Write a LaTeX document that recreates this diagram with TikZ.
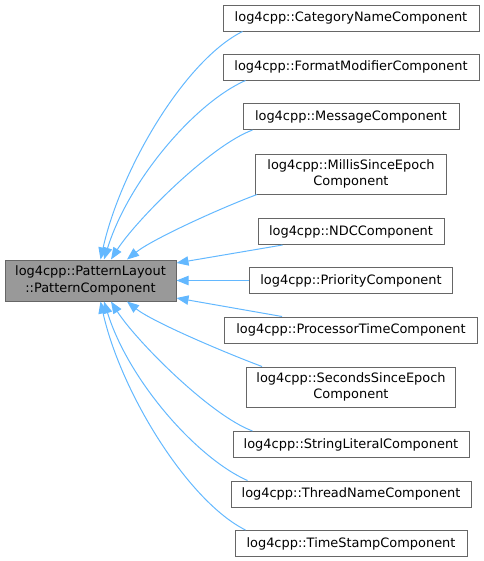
\documentclass[tikz,border=0pt]{standalone}
\usepackage{fontspec}
\setmainfont{DejaVu Sans}
\usetikzlibrary{calc,arrows.meta}

\definecolor{edgeblue}{HTML}{63B8FF}
\definecolor{boxgray}{HTML}{999999}
\definecolor{linegray}{HTML}{666666}

\begin{document}
\begin{tikzpicture}[x=0.75pt, y=-0.75pt,
  clsbox/.style={draw=linegray, line width=0.75pt, fill=white, inner sep=0pt,
    align=center, font=\fontsize{9.7}{12.5}\selectfont, minimum height=19.5pt},
  basebox/.style={clsbox, fill=boxgray, minimum height=30.75pt},
  inherit/.style={draw=edgeblue, line width=0.75pt,
    -{Triangle[length=9pt, width=7pt, fill=edgeblue]}}]

  % Page size
  \useasboundingbox (0,0) rectangle (484,561);

  % Base class
  \node[basebox, minimum width=128.25pt] (base) at (90.5,280.5)
    {log4cpp::PatternLayout\\::PatternComponent};

  % Derived classes
  \node[clsbox, minimum width=192pt] (cat) at (351,18) {log4cpp::CategoryNameComponent};
  \node[clsbox, minimum width=192pt] (fmt) at (351,67) {log4cpp::FormatModifierComponent};
  \node[clsbox, minimum width=162pt] (msg) at (351,116.5) {log4cpp::MessageComponent};
  \node[clsbox, minimum width=143.25pt, minimum height=30pt] (mil) at (351,174)
    {log4cpp::MillisSinceEpoch\\Component};
  \node[clsbox, minimum width=139.5pt] (ndc) at (351,231.5) {log4cpp::NDCComponent};
  \node[clsbox, minimum width=152.25pt] (pri) at (351,280.5) {log4cpp::PriorityComponent};
  \node[clsbox, minimum width=189.75pt] (pro) at (351,330) {log4cpp::ProcessorTimeComponent};
  \node[clsbox, minimum width=156.75pt, minimum height=30pt] (sec) at (351,387)
    {log4cpp::SecondsSinceEpoch\\Component};
  \node[clsbox, minimum width=177pt] (str) at (351,444.5) {log4cpp::StringLiteralComponent};
  \node[clsbox, minimum width=180pt] (thr) at (351,494) {log4cpp::ThreadNameComponent};
  \node[clsbox, minimum width=174pt] (tim) at (351,543.5) {log4cpp::TimeStampComponent};

  % Inheritance arrows, upper half
  \draw[inherit] ($(cat.south west)+(20,0)$) .. controls +(-58,29) and +(20,-90) .. ($(base.north)+(10,0)$);
  \draw[inherit] ($(fmt.south west)+(23,0)$) .. controls +(-50,22) and +(25,-80) .. ($(base.north)+(13.5,0)$);
  \draw[inherit] ($(msg.south west)+(10,0)$) .. controls +(-43,16) and +(24,-38) .. ($(base.north)+(20.5,0)$);
  \draw[inherit] ($(mil.south west)+(2,0)$) .. controls +(-40,15) and +(25,-20) .. ($(base.north)+(36.5,0)$);

  % Inheritance arrows, middle
  \draw[inherit] ($(ndc.south west)+(25,0)$) -- ($(base.east)+(0,-17.5)$);
  \draw[inherit] (pri.west) -- (base.east);
  \draw[inherit] ($(pro.north west)+(58,0)$) -- ($(base.east)+(0,17.5)$);

  % Inheritance arrows, lower half
  \draw[inherit] ($(sec.north west)+(16,0)$) .. controls +(-40,-15) and +(25,20) .. ($(base.south)+(36.5,0)$);
  \draw[inherit] ($(str.north west)+(20,0)$) .. controls +(-43,-16) and +(24,38) .. ($(base.south)+(20.5,0)$);
  \draw[inherit] ($(thr.north west)+(17,0)$) .. controls +(-50,-22) and +(25,80) .. ($(base.south)+(13.5,0)$);
  \draw[inherit] ($(tim.north west)+(11,0)$) .. controls +(-58,-29) and +(20,90) .. ($(base.south)+(10,0)$);

\end{tikzpicture}
\end{document}
